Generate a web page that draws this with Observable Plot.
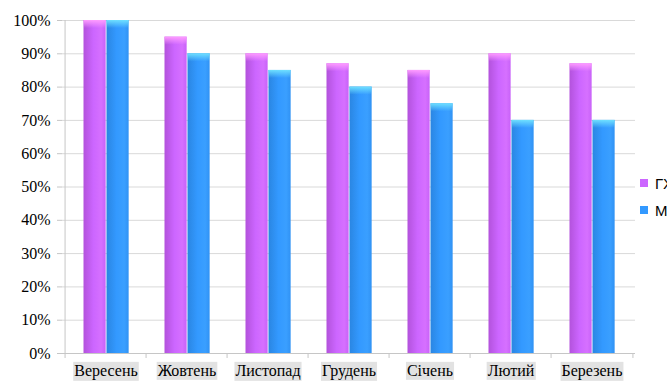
<!DOCTYPE html>
<html><head><meta charset="utf-8">
<script src="https://cdn.jsdelivr.net/npm/d3@7"></script>
<script src="https://cdn.jsdelivr.net/npm/@observablehq/plot@0.6"></script>
<style>
html,body{margin:0;padding:0;background:#fff;overflow:hidden;width:667px;height:381px;}
#wrap{position:relative;width:667px;height:381px;overflow:hidden;}
#wrap svg{position:absolute;left:0;top:0;}
.leg{position:absolute;left:640px;height:14px;font-family:"Liberation Sans",Arial,sans-serif;font-size:15px;color:#000;white-space:nowrap;display:flex;align-items:center;}
.sw{width:8px;height:8px;margin-right:7px;flex:none;}
</style></head><body><div id="wrap"></div>
<script>
const months = ["Вересень","Жовтень","Листопад","Грудень","Січень","Лютий","Березень"];
const ghValues = [100, 95, 90, 87, 85, 90, 87];
const mValues = [100, 90, 85, 80, 75, 70, 70];
const seriesNames = ["ГХ", "М"];
const yTicks = [0, 10, 20, 30, 40, 50, 60, 70, 80, 90, 100];

const data = months.map((month, i) => ({month, gh: ghValues[i], m: mValues[i]}));

const W = 667, H = 381, mL = 62, mR = 32, mT = 20, mB = 28;
const bw = (W - mL - mR) / months.length;
const serif = "Liberation Serif";

const chart = Plot.plot({
  width: W, height: H,
  marginLeft: mL, marginRight: mR, marginTop: mT, marginBottom: mB,
  style: {fontFamily: serif, fontSize: "16px", background: "#fff"},
  x: {type: "band", domain: months, padding: 0, label: null},
  y: {domain: [0, 100], label: null},
  marks: [
    Plot.ruleY(yTicks, {stroke: "#d9d9d9", strokeWidth: 1}),
    Plot.ruleX(months, {x: d => d, dx: -bw / 2, y1: -1.5, y2: (d, i) => i === 0 ? 100 : 0, stroke: "#c6c6c6"}),
    Plot.ruleX([months[months.length - 1]], {x: d => d, dx: bw / 2, y1: -1.5, y2: 0, stroke: "#c6c6c6"}),
    Plot.ruleY([0], {stroke: "#c6c6c6"}),
    Plot.barY(data, {x: "month", y: "gh", fill: "url(#gradGH)", insetLeft: 18.5, insetRight: bw - 41.5}),
    Plot.barY(data, {x: "month", y: "m", fill: "url(#gradM)", insetLeft: 41.5, insetRight: bw - 64.5}),
    Plot.barY(data, {x: "month", y1: "gh", y2: d => d.gh - 2.4, fill: "url(#topGH)", insetLeft: 18.5, insetRight: bw - 41.5}),
    Plot.barY(data, {x: "month", y1: "m", y2: d => d.m - 2.4, fill: "url(#topM)", insetLeft: 41.5, insetRight: bw - 64.5}),
    Plot.axisY({ticks: yTicks, tickFormat: d => d + "%", tickSize: 5, tickPadding: 7, stroke: "#c6c6c6", fill: "#000", fontSize: 16, fontFamily: serif}),
    Plot.axisX({tickSize: 0, tickPadding: 11, fill: "#000", fontSize: 16, fontFamily: serif})
  ]
});

const svgNS = "http://www.w3.org/2000/svg";
const defs = document.createElementNS(svgNS, "defs");
const grads = [
  ["gradGH", 1, 0, [["0", "#b352dc", 1], ["0.45", "#cc66ff", 1], ["0.8", "#d670ff", 1], ["1", "#c862f8", 1]]],
  ["gradM", 1, 0, [["0", "#2a86e2", 1], ["0.45", "#3399ff", 1], ["0.8", "#3a9fff", 1], ["1", "#3092f4", 1]]],
  ["topGH", 0, 1, [["0", "#ff9cff", 1], ["1", "#ff9cff", 0]]],
  ["topM", 0, 1, [["0", "#6fe0ff", 1], ["1", "#6fe0ff", 0]]]
];
grads.forEach(([id, x2, y2, stops]) => {
  const g = document.createElementNS(svgNS, "linearGradient");
  g.setAttribute("id", id);
  g.setAttribute("x1", 0); g.setAttribute("y1", 0);
  g.setAttribute("x2", x2); g.setAttribute("y2", y2);
  stops.forEach(([o, c, op]) => {
    const s = document.createElementNS(svgNS, "stop");
    s.setAttribute("offset", o);
    s.setAttribute("stop-color", c);
    s.setAttribute("stop-opacity", op);
    g.appendChild(s);
  });
  defs.appendChild(g);
});
chart.insertBefore(defs, chart.firstChild);

const wrap = document.getElementById("wrap");
wrap.appendChild(chart);

// force serif font on all chart texts
chart.querySelectorAll("text").forEach(t => {
  t.setAttribute("font-family", serif);
  t.style.setProperty("font-family", "'Liberation Serif', 'Times New Roman', serif", "important");
  t.style.setProperty("font-size", "16px", "important");
});

// gray background boxes behind category labels
const xLabels = chart.querySelectorAll('g[aria-label="x-axis tick label"] text');
xLabels.forEach(t => {
  const b = t.getBBox();
  const r = document.createElementNS(svgNS, "rect");
  r.setAttribute("x", b.x - 1);
  r.setAttribute("y", b.y);
  r.setAttribute("width", b.width + 2);
  r.setAttribute("height", b.height + 1);
  r.setAttribute("fill", "#e2e2e2");
  if (t.getAttribute("transform")) r.setAttribute("transform", t.getAttribute("transform"));
  t.parentNode.insertBefore(r, t);
});

// legend
const legColors = ["#cc66ff", "#3399ff"];
const legTops = [176, 203];
seriesNames.forEach((name, i) => {
  const d = document.createElement("div");
  d.className = "leg";
  d.style.top = legTops[i] + "px";
  d.innerHTML = `<span class="sw" style="background:${legColors[i]}"></span><span>${name}</span>`;
  wrap.appendChild(d);
});
</script>
</body></html>
